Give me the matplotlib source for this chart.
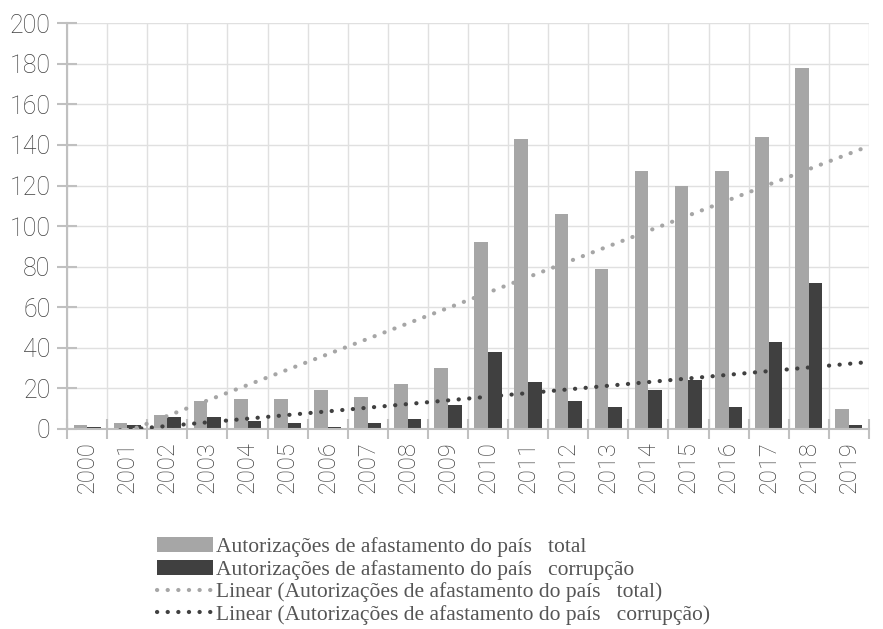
import matplotlib
matplotlib.use('Agg')
import matplotlib.pyplot as plt
import numpy as np

years = [str(y) for y in range(2000, 2020)]
total = [2, 3, 7, 14, 15, 15, 19, 16, 22, 30, 92, 143, 106, 79, 127, 120, 127, 144, 178, 10]
corrupcao = [1, 2, 6, 6, 4, 3, 1, 3, 5, 12, 38, 23, 14, 11, 19, 24, 11, 43, 72, 2]

labels = ['Autorizações de afastamento do país   total',
          'Autorizações de afastamento do país   corrupção',
          'Linear (Autorizações de afastamento do país   total)',
          'Linear (Autorizações de afastamento do país   corrupção)']

fig = plt.figure(figsize=(8.83, 6.29), dpi=100)
ax = fig.add_axes([0.076, 0.318, 0.908, 0.645])

x = np.arange(len(years))
w = 0.34
b1 = ax.bar(x - w/2, total, w, color='#a6a6a6', zorder=2)
b2 = ax.bar(x + w/2, corrupcao, w, color='#404040', zorder=2)

# linear trendlines
xs = np.linspace(-0.5, len(years) - 0.5, 200)
p1 = np.polyfit(x, total, 1)
p2 = np.polyfit(x, corrupcao, 1)
dots = (0, (0.05, 2.5))
l1, = ax.plot(xs, np.polyval(p1, xs), color='#a6a6a6', lw=3, ls=dots,
              dash_capstyle='round', zorder=3)
l2, = ax.plot(xs, np.polyval(p2, xs), color='#404040', lw=3, ls=dots,
              dash_capstyle='round', zorder=3)

ax.set_xlim(-0.5, len(years) - 0.5)
ax.set_ylim(0, 200)
ax.set_yticks(range(0, 201, 20))
ax.set_xticks(x)
ax.set_xticklabels(years, rotation=90)
ax.set_xticks(np.arange(-0.5, len(years), 1), minor=True)

for s in ['top', 'right']:
    ax.spines[s].set_visible(False)
for s in ['left', 'bottom']:
    ax.spines[s].set_color('#c0c0c0')
    ax.spines[s].set_linewidth(1.5)

ax.grid(True, which='major', axis='y', color='#e0e0e0', lw=1, zorder=0)
ax.grid(True, which='minor', axis='x', color='#e0e0e0', lw=1, zorder=0)
ax.tick_params(axis='y', which='major', direction='inout', length=14, width=1.5,
               color='#c0c0c0', labelsize=18, labelcolor='#404040', pad=5)
ax.tick_params(axis='x', which='major', length=0, labelsize=17, labelcolor='#404040', pad=9)
ax.tick_params(axis='x', which='minor', direction='inout', length=14, width=1.5, color='#c0c0c0')
for t in ax.get_xticklabels() + ax.get_yticklabels():
    t.set_fontfamily('Roboto')
    t.set_fontweight('light')

leg = fig.legend([b1, b2, l1, l2], labels, loc='upper left', bbox_to_anchor=(0.168, 0.16),
                 frameon=False, prop={'family': 'Liberation Serif', 'size': 15.5},
                 handlelength=2.6, handleheight=0.7, handletextpad=0.15, labelspacing=0.12,
                 borderaxespad=0)
for t in leg.get_texts():
    t.set_color('#555555')

fig.savefig('out.png', dpi=100)
